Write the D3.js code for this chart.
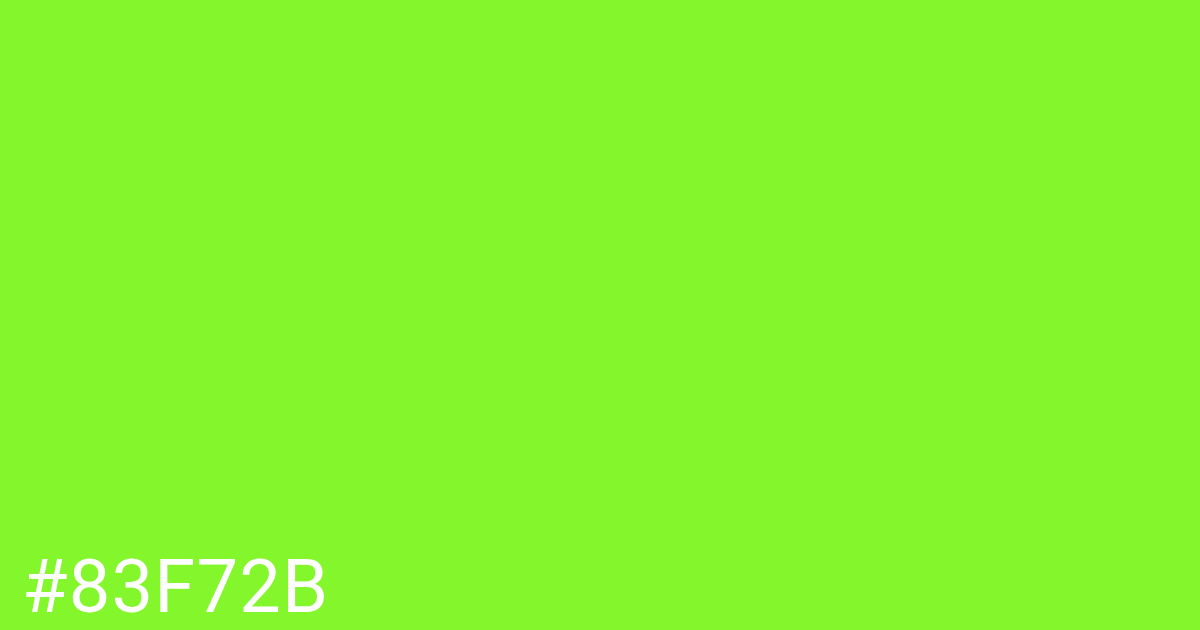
<!DOCTYPE html>
<html>
<head>
<meta charset="utf-8">
<script src="https://cdn.jsdelivr.net/npm/d3@7"></script>
<style>
  html, body { margin: 0; padding: 0; overflow: hidden; }
</style>
</head>
<body>
<script>
// one swatch, one label
const colors = ["#83F72B"]
const labels = ["#83F72B"]

const width = 1200
const height = 630

const svg = d3.select("body").append("svg")
    .attr("width", width)
    .attr("height", height)

const x = d3.scaleBand().domain(colors).range([0, width])

svg.selectAll("rect.swatch")
    .data(colors)
    .join("rect")
    .attr("class", "swatch")
    .attr("x", d => x(d))
    .attr("y", 0)
    .attr("width", x.bandwidth())
    .attr("height", height)
    .attr("fill", d => d)

svg.selectAll("text.label")
    .data(labels)
    .join("text")
    .attr("class", "label")
    .attr("x", 22)
    .attr("y", 612)
    .attr("fill", "#ffffff")
    .style("font-family", "Roboto, sans-serif")
    .style("font-size", "74px")
    .style("letter-spacing", "1.2px")
    .text(d => d)
</script>
</body>
</html>
